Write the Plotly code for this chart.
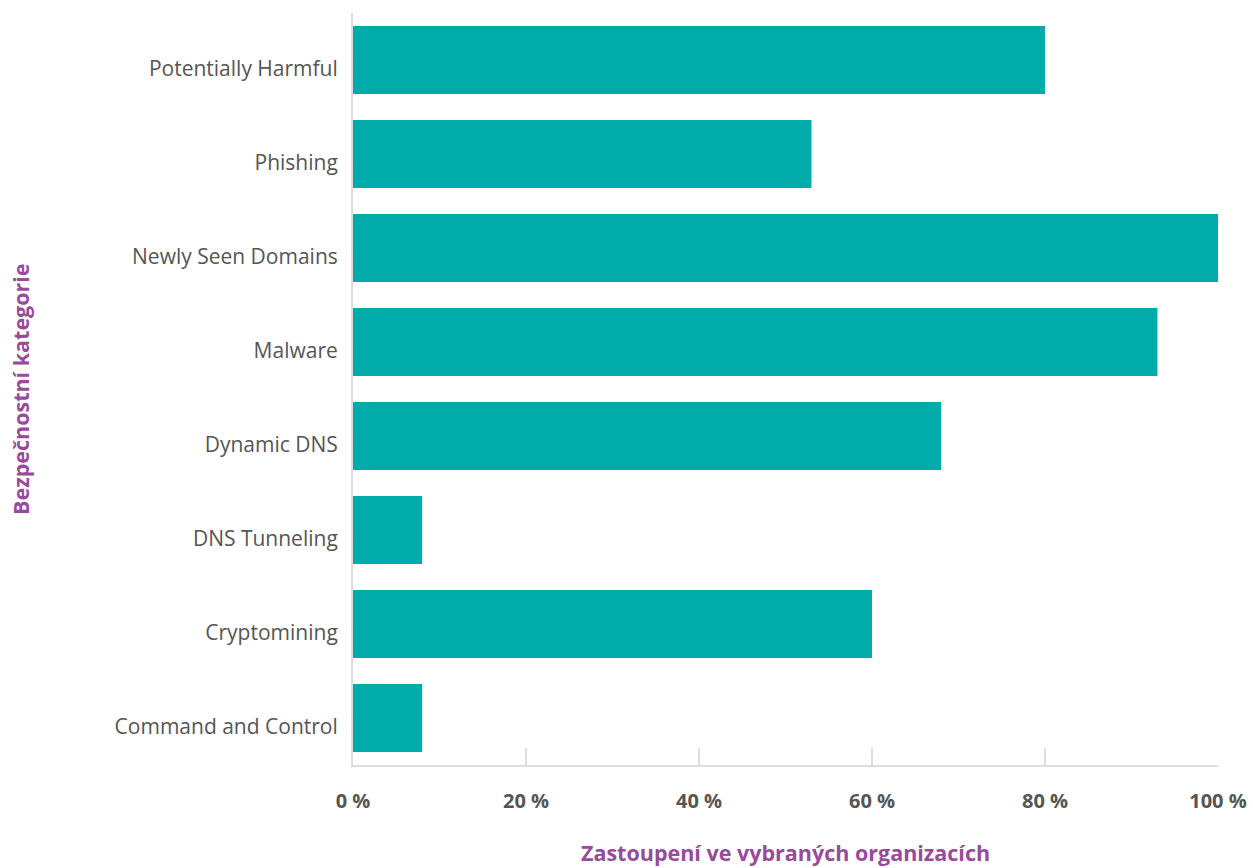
import plotly.graph_objects as go

categories = [
    "Command and Control",
    "Cryptomining",
    "DNS Tunneling",
    "Dynamic DNS",
    "Malware",
    "Newly Seen Domains",
    "Phishing",
    "Potentially Harmful",
]
shares = [8, 60, 8, 68, 93, 100, 53, 80]
tick_values = [0, 20, 40, 60, 80, 100]
tick_labels = ["0 %", "20 %", "40 %", "60 %", "80 %", "100 %"]

TEAL = "#00ABAA"
PURPLE = "#984A9C"
GREY_TEXT = "#555555"
AXIS_GREY = "#DDDDDD"
FONT = "'Open Sans', sans-serif"

fig = go.Figure(
    go.Bar(
        x=shares,
        y=categories,
        orientation="h",
        marker=dict(color=TEAL, line=dict(width=0)),
        hovertemplate="%{y}: %{x} %<extra></extra>",
    )
)

fig.update_layout(
    template="none",
    width=1253,
    height=868,
    margin=dict(l=353, r=35, t=13, b=103),
    paper_bgcolor="white",
    plot_bgcolor="white",
    bargap=0.277,
    showlegend=False,
    font=dict(family=FONT, color=GREY_TEXT),
)

fig.update_xaxes(
    automargin=False,
    range=[0, 100],
    tickvals=tick_values,
    ticktext=tick_labels,
    tickfont=dict(size=20, color=GREY_TEXT, family=FONT, weight="bold"),
    ticks="inside",
    ticklen=17,
    tickwidth=2,
    tickcolor=AXIS_GREY,
    showgrid=False,
    zeroline=False,
    showline=True,
    linecolor=AXIS_GREY,
    linewidth=2,
    ticklabelstandoff=17,
    fixedrange=True,
)

fig.update_yaxes(
    automargin=False,
    categoryorder="array",
    categoryarray=categories,
    tickfont=dict(size=21, color=GREY_TEXT, family=FONT),
    ticks="",
    showgrid=False,
    zeroline=False,
    showline=True,
    linecolor=AXIS_GREY,
    linewidth=2,
    ticklabelstandoff=9,
    ticklabelshift=9,
    fixedrange=True,
)

fig.add_annotation(
    text="Zastoupení ve vybraných organizacích",
    xref="paper", yref="paper",
    x=0.5, y=0,
    xanchor="center", yanchor="middle",
    yshift=-87,
    showarrow=False,
    font=dict(size=21.5, color=PURPLE, family=FONT, weight="bold"),
)

fig.add_annotation(
    text="Bezpečnostní kategorie",
    xref="paper", yref="paper",
    x=0, y=0.5,
    xanchor="center", yanchor="middle",
    xshift=-333,
    textangle=-90,
    showarrow=False,
    font=dict(size=21.5, color=PURPLE, family=FONT, weight="bold"),
)

fig.write_html("out.html")
